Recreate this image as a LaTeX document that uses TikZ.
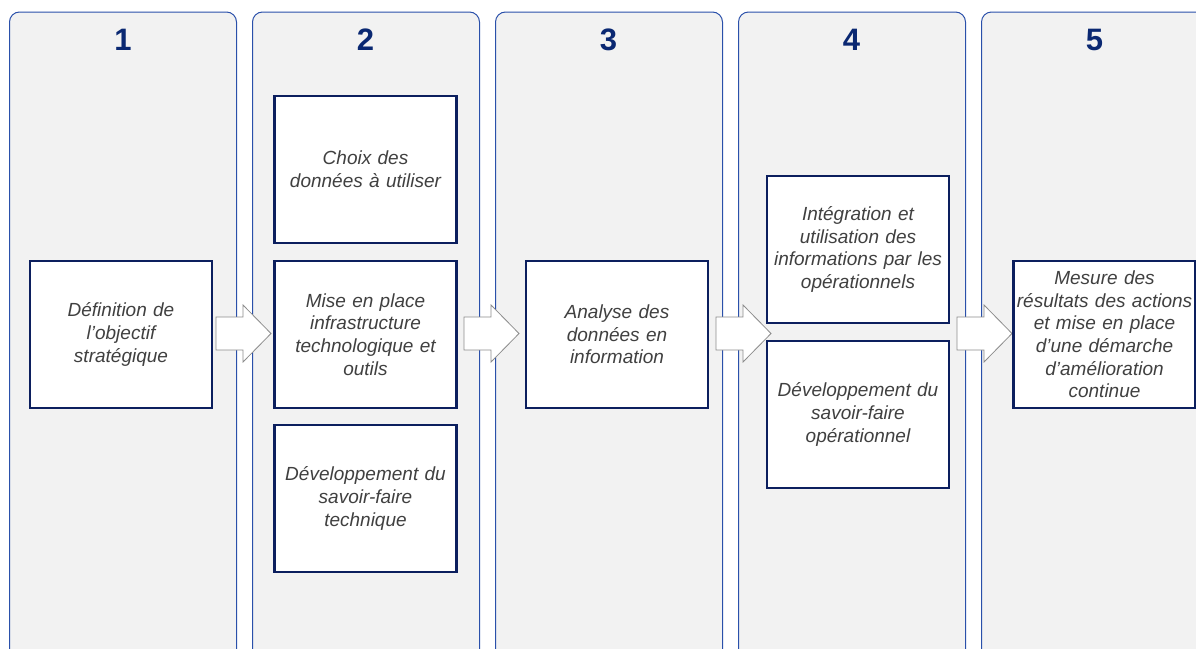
\documentclass[tikz,border=0pt]{standalone}
\usepackage{fontspec}
\setmainfont{Liberation Sans}
\definecolor{panelfill}{HTML}{F2F2F2}
\definecolor{panelline}{HTML}{2A50AA}
\definecolor{navy}{HTML}{0C1F5E}
\definecolor{numcol}{HTML}{0A2872}
\definecolor{txt}{HTML}{404040}
\definecolor{arrowgray}{HTML}{8C8C8C}
\begin{document}
\begin{tikzpicture}[x=1pt,y=-1pt,
  panel/.style={draw=panelline, line width=1pt, fill=panelfill, rounded corners=10pt},
  num/.style={font=\fontsize{31}{31}\selectfont\bfseries, text=numcol, inner sep=0pt},
  stepbox/.style={draw=navy, line width=2.3pt, fill=white, minimum width=182pt, minimum height=147pt,
    inner sep=1pt, align=center, text width=180pt, font=\fontsize{19}{22.6}\selectfont\itshape, text=txt},
  blockarrow/.style={draw=arrowgray, fill=white, line width=0.8pt, line join=miter},
  barrow/.pic={\draw[blockarrow] (0,-16.5) -- (27,-16.5) -- (27,-28.5) -- (55,0) -- (27,28.5) -- (27,16.5) -- (0,16.5) -- cycle;}]
\useasboundingbox (0,0) rectangle (1196,648);
\clip (0,0) rectangle (1196,648);
% panels
\draw[panel] (9.5,12) rectangle (236.5,680);
\draw[panel] (252.5,12) rectangle (479.5,680);
\draw[panel] (495.5,12) rectangle (722.5,680);
\draw[panel] (738.5,12) rectangle (965.5,680);
\draw[panel] (981.5,12) rectangle (1220,680);
% numbers
\node[num] (n1) at (123,40) {1};
\node[num] (n2) at (365.5,40) {2};
\node[num] (n3) at (608.5,40) {3};
\node[num] (n4) at (851.5,40) {4};
\node[num] (n5) at (1094.5,40) {5};
% arrows
\pic at (216,333.5) {barrow};
\pic at (464,333.5) {barrow};
\pic at (716,333.5) {barrow};
\pic at (957,333.5) {barrow};
% boxes
\node[stepbox] (b1) at (121,334.5) {Définition de\\l’objectif\\stratégique};
\node[stepbox] (b2a) at (365.5,169.5) {Choix des\\données à utiliser};
\node[stepbox] (b2b) at (365.5,334.5) {Mise en place\\infrastructure\\technologique et\\outils};
\node[stepbox] (b2c) at (365.5,498.5) {Développement du\\savoir-faire\\technique};
\node[stepbox] (b3) at (617,334.5) {Analyse des\\données en\\information};
\node[stepbox] (b4a) at (858,249.5) {Intégration et\\utilisation des\\informations par les\\opérationnels};
\node[stepbox] (b4b) at (858,414.5) {Développement du\\savoir-faire\\opérationnel};
\node[stepbox, minimum width=181pt] (b5) at (1104.5,334.5) {Mesure des\\résultats des actions\\et mise en place\\d’une démarche\\d’amélioration\\continue};
\end{tikzpicture}
\end{document}
